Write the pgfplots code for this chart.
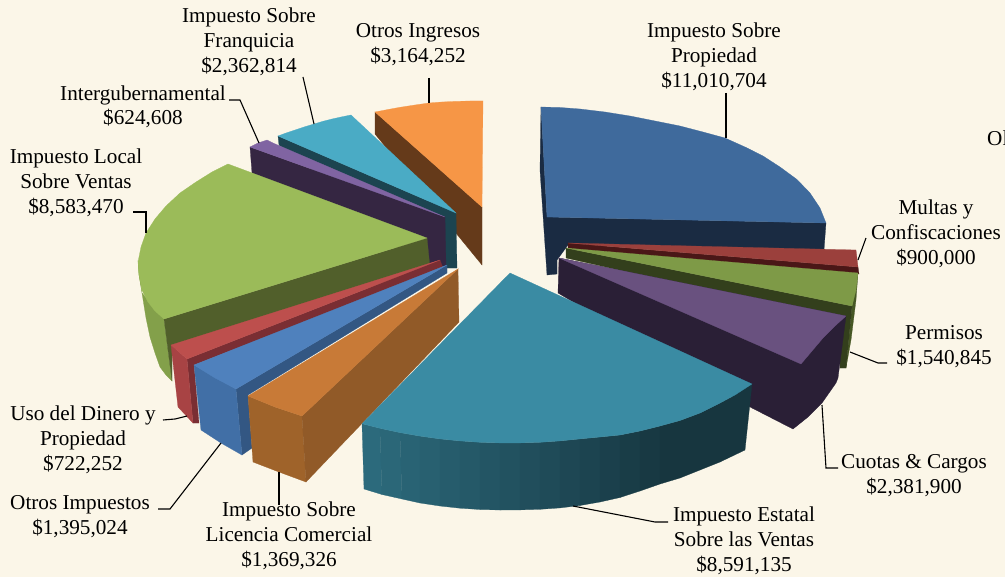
\documentclass[border=0pt]{standalone}
\usepackage{fontspec}
\setmainfont{Liberation Serif}
\usepackage{pgfplots}
\pgfplotsset{compat=1.18}
\definecolor{bg}{HTML}{FBF6E8}
\newcommand{\polyc}[2]{\addplot[fill={rgb,255:#1},draw={rgb,255:#1},line width=.25pt,forget plot] coordinates {#2} -- cycle;}
\newcommand{\lead}[1]{\addplot[black,line width=1.1pt,forget plot] coordinates {#1};}
\newcommand{\lab}[3]{\node[align=center,inner sep=0pt,font=\fontsize{21.2bp}{24.6bp}\selectfont,text=black] at (axis cs:#1,#2+1.8) {#3};}
\begin{document}
\begin{tikzpicture}
\path[use as bounding box] (0,0) rectangle (1005bp,577bp);
\clip (0,0) rectangle (1005bp,577bp);
\fill[bg] (0,0) rectangle (1005bp,577bp);
\begin{axis}[at={(0,0)},anchor=south west,scale only axis,width=1005bp,height=577bp,
  xmin=0,xmax=1005,ymin=0,ymax=577,y dir=reverse,hide axis,clip=false]
% Otros Ingresos
\polyc{red,101;green,58;blue,26}{(375,112)(482,207)(482,265)(375,134)}
\polyc{red,246;green,150;blue,70}{(375,112)(388,109.5)(400,107.3)(415,105)(429,103)(442,102)(455,101.4)(470,101)(483,101)(482,207)}
% Franquicia
\polyc{red,28;green,68;blue,80}{(278,136)(456,213)(457,268)(445,268)(279,145)}
\polyc{red,74;green,171;blue,197}{(278,136)(286,133)(295,130)(304,127)(314,124)(323,121.3)(332,119)(341,117)(351,115)(456,213)}
% Intergubernamental
\polyc{red,53;green,38;blue,66}{(250,147)(445,217)(446,265)(436,268)(252,173)}
\polyc{red,128;green,100;blue,162}{(250,147)(258,143)(267,140)(273,143)(445,217)}
% Local sobre ventas
\polyc{red,131;green,160;blue,74}{(138,260)(142,293)(164,319)(172,381)(166,375)(160,367)(155,353)(150,337)(146,318)(142,293)(139,275)}
\polyc{red,81;green,95;blue,43}{(164,319)(427,238)(430,268)(172,350)(172,381)}
\polyc{red,155;green,187;blue,89}{(228,164)(212,172)(196,182)(180,193)(166,206)(155,219)(146,233)(141,247)(138,262)(139,275)(142,290)(148,302)(155,311)(164,319)(427,238)}
% Uso del dinero
\polyc{red,122;green,46;blue,51}{(187,359)(440,260)(443,268)(194,365)(199,423)(193,423)}
\polyc{red,168;green,67;blue,68}{(171,345)(187,359)(193,423)(178,407)}
\polyc{red,189;green,79;blue,77}{(171,345)(440,260)(187,359)}
% Otros impuestos
\polyc{red,51;green,87;blue,131}{(236,389)(447,265)(447,273)(248,395)(252,448)(242,455)}
\polyc{red,65;green,111;blue,166}{(194,365)(236,389)(242,455)(221,443)(201,430)}
\polyc{red,79;green,129;blue,189}{(194,365)(215,378)(236,389)(447,265)}
% Licencia comercial
\polyc{red,159;green,99;blue,42}{(248,396)(275,407)(302,416)(306,482)(279,472)(253,462)}
\polyc{red,145;green,90;blue,40}{(302,416)(458,269)(459,322)(306,482)}
\polyc{red,200;green,122;blue,55}{(248,396)(275,407)(302,416)(458,269)}
% Propiedad
\polyc{red,26;green,43;blue,66}{(541,107)(547,217)(826,223)(824,250)(568,245)(557,260)(557,274)(547,275)(540,170)}
\polyc{red,63;green,106;blue,156}{(541,107)(560,107.5)(580,109)(605,112)(630,116)(655,121)(680,126)(703,132)(725,138)(745,147)(763,156)(780,167)(797,179.5)(810,193)(820,208)(826,223)(547,217)}
% Multas
\polyc{red,74;green,23;blue,23}{(568,243)(858,267)(859,274)(568,249)}
\polyc{red,155;green,64;blue,60}{(568,243)(856,250)(858,267)}
% Permisos
\polyc{red,70;green,87;blue,36}{(858,273)(856,300)(851,340)(846,368)(852,306)}
\polyc{red,51;green,63;blue,28}{(566,248)(852,306)(846,368)(840,368)(840,320)(566,258)}
\polyc{red,126;green,154;blue,71}{(566,248)(858,273)(856,290)(852,306)}
% Cuotas
\polyc{red,42;green,31;blue,54}{(559,258)(846,316)(838,378)(836,383)(822,403)(808,417)(793,429)(752,408)(558,293)}
\polyc{red,105;green,81;blue,127}{(559,258)(846,316)(835,326)(823,338)(812,351)(801,364)}
% Estatal: cara frontal en bandas
\polyc{red,44;green,106;blue,124}{(362,423.7)(380,428.3)(382,494.5)(364,489)}
\polyc{red,43;green,103;blue,120}{(380,428.3)(400,432.6)(402,499)(382,494.5)}
\polyc{red,41;green,99;blue,116}{(400,432.6)(420,436.1)(420,503)(402,499)}
\polyc{red,40;green,96;blue,112}{(420,436.1)(440,438.9)(440,506)(420,503)}
\polyc{red,38;green,92;blue,108}{(440,438.9)(460,440.9)(460,508.2)(440,506)}
\polyc{red,37;green,89;blue,104}{(460,440.9)(480,442.3)(480,509.5)(460,508.2)}
\polyc{red,35;green,85;blue,100}{(480,442.3)(500,442.9)(500,510)(480,509.5)}
\polyc{red,34;green,82;blue,96}{(500,442.9)(520,442.9)(520,509.9)(500,510)}
\polyc{red,33;green,78;blue,92}{(520,442.9)(540,442.3)(540,509.3)(520,509.9)}
\polyc{red,31;green,75;blue,88}{(540,442.3)(560,440.9)(560,507.9)(540,509.3)}
\polyc{red,30;green,71;blue,84}{(560,440.9)(580,438.9)(580,505.5)(560,507.9)}
\polyc{red,28;green,68;blue,80}{(580,438.9)(600,437)(600,502)(580,505.5)}
\polyc{red,27;green,64;blue,76}{(600,437)(620,435)(620,497.5)(600,502)}
\polyc{red,25;green,61;blue,71}{(620,435)(640,431)(640,491)(620,497.5)}
\polyc{red,24;green,57;blue,67}{(640,431)(660,426)(660,484)(640,491)}
\polyc{red,23;green,54;blue,63}{(660,426)(680,420.5)(680,478)(660,484)}
\polyc{red,23;green,54;blue,63}{(680,420.5)(700,413)(700,470)(680,478)}
\polyc{red,23;green,54;blue,63}{(700,413)(720,403)(720,462)(700,470)}
\polyc{red,23;green,54;blue,63}{(720,403)(735,395)(752,384)(745,450)(720,462)}
\polyc{red,58;green,139;blue,163}{(510,273)(752,384)(735,395)(720,403)(700,413)(680,420.5)(660,426)(640,431)(620,435)(600,437)(580,438.9)(560,440.9)(540,442.3)(520,442.9)(500,442.9)(480,442.3)(460,440.9)(440,438.9)(420,436.1)(400,432.6)(380,428.3)(362,423.7)}
% guias
\lead{(726,93)(726,138)}
\lead{(866,238)(858,260)}
\lead{(887,363)(878,363)(850,352)}
\lead{(822,405)(826,468)(838,468)}
\lead{(573,506)(655,522)(668,522)}
\lead{(279,472)(279,505)}
\lead{(221,443)(170,509)(158,509)}
\lead{(163,420)(175,419)(187,416)}
\lead{(133,212)(146,212)(146,233)}
\lead{(229,100)(240,100)(259,143)}
\lead{(303,77)(314,124)}
\lead{(429,78)(429,103)}
% etiquetas
\lab{714}{55}{Impuesto Sobre\\Propiedad\\\$11,010,704}
\lab{936}{232}{Multas y\\Confiscaciones\\\$900,000}
\lab{944}{345}{Permisos\\\$1,540,845}
\lab{914}{474}{Cuotas \& Cargos\\\$2,381,900}
\lab{744}{539}{Impuesto Estatal\\Sobre las Ventas\\\$8,591,135}
\lab{289}{534}{Impuesto Sobre\\Licencia Comercial\\\$1,369,326}
\lab{80}{515}{Otros Impuestos\\\$1,395,024}
\lab{83}{438}{Uso del Dinero y\\Propiedad\\\$722,252}
\lab{76}{181}{Impuesto Local\\Sobre Ventas\\\$8,583,470}
\lab{143}{105}{Intergubernamental\\\$624,608}
\lab{249}{40}{Impuesto Sobre\\Franquicia\\\$2,362,814}
\lab{418}{43}{Otros Ingresos\\\$3,164,252}
\node[anchor=west,inner sep=0pt,font=\fontsize{21.2bp}{24.6bp}\selectfont,text=black] at (axis cs:987,138.5) {Ol};
\end{axis}
\end{tikzpicture}
\end{document}
